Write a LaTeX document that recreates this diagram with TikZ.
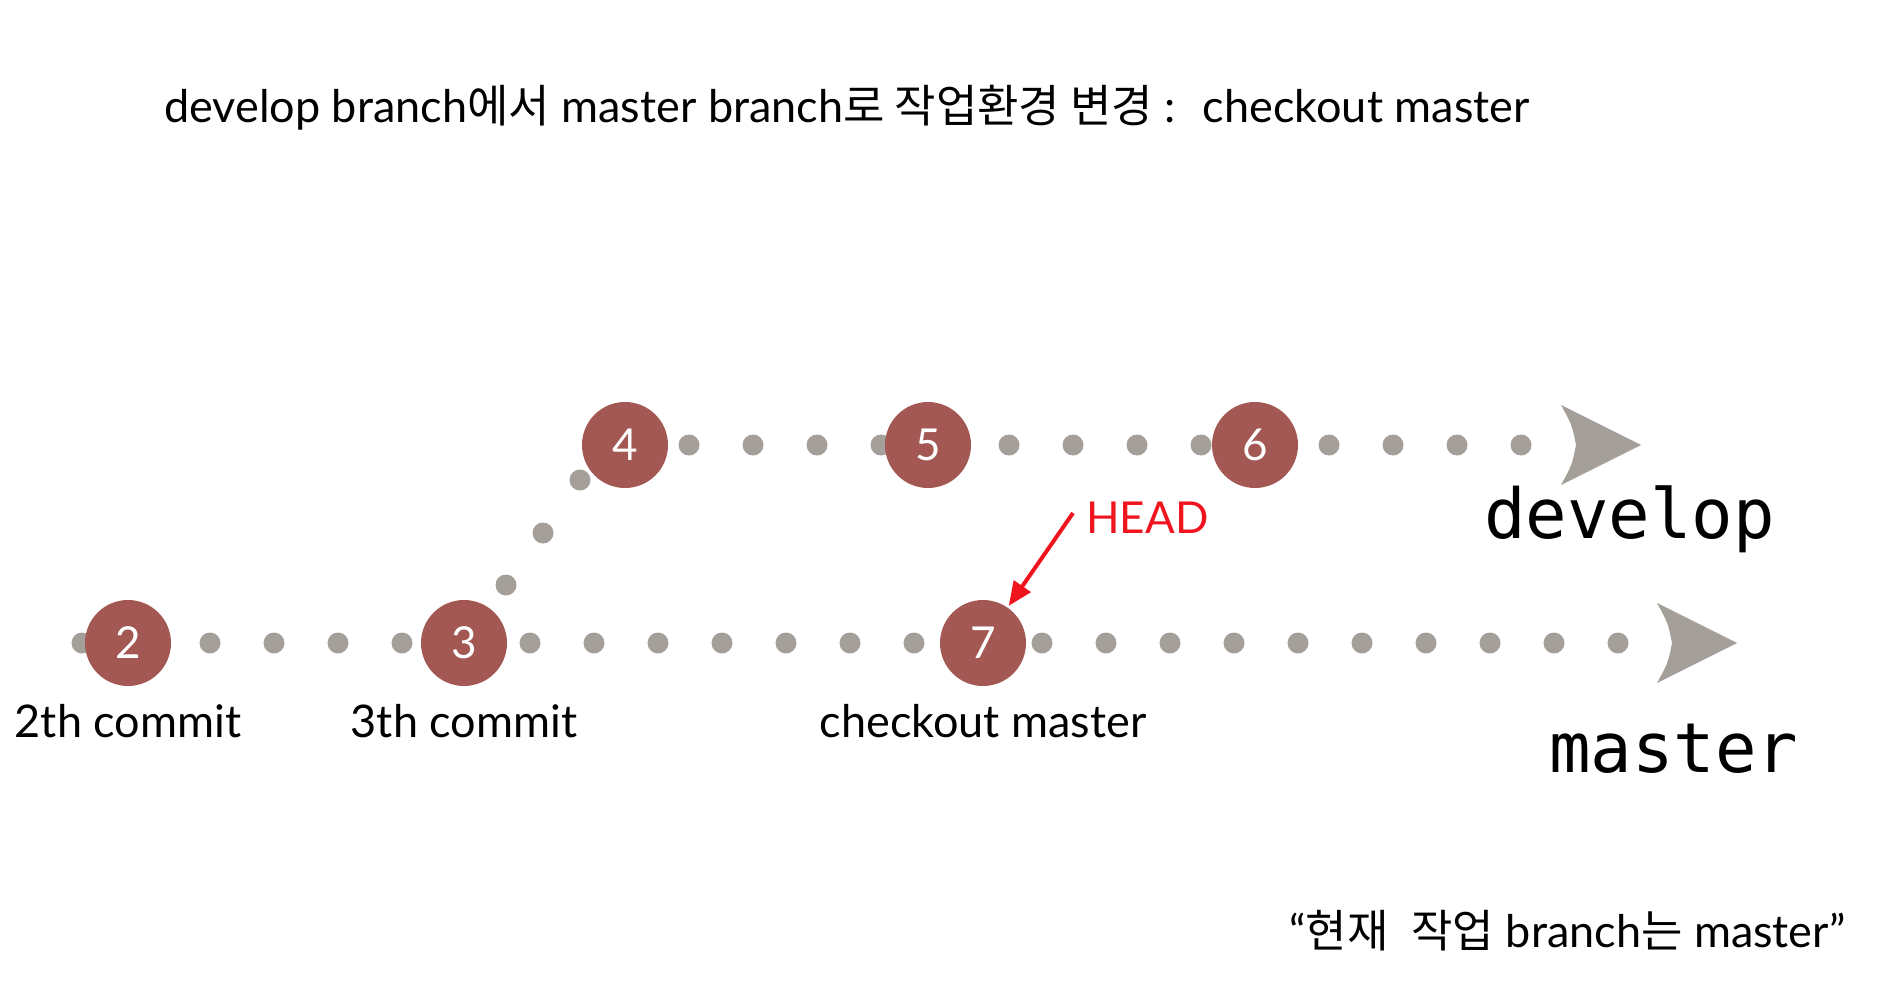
\documentclass[tikz,border=0pt]{standalone}
\usepackage{fontspec}
\setmainfont{Lato}
\newfontfamily\cjk{Noto Sans CJK KR}[Scale=1.0]
\newfontfamily\mono{DejaVu Sans Mono}
\usetikzlibrary{arrows.meta}
\definecolor{commitred}{RGB}{163,88,84}
\definecolor{dotgray}{RGB}{164,159,152}
\definecolor{headred}{RGB}{240,20,30}
\begin{document}
\begin{tikzpicture}[x=1pt,y=-1pt,
  commit/.style={circle,fill=commitred,minimum size=86pt,inner sep=0pt,text=white,font=\fontsize{44}{44}\selectfont},
  dotline/.style={dotgray,line width=21pt,line cap=round,dash pattern=on 0pt off 64pt},
  dotnode/.style={circle,fill=dotgray,minimum size=21pt,inner sep=0pt},
  caption/.style={inner sep=0pt,anchor=base,font=\fontsize{45}{45}\selectfont},
  branchname/.style={inner sep=0pt,anchor=base west,font=\mono\fontsize{69}{69}\selectfont},
  headarrow/.style={headred,line width=4pt,-{Triangle[length=24pt,width=20pt]},shorten >=2pt}
]
\useasboundingbox (0,0) rectangle (1900,998);

% title
\node[inner sep=0pt,anchor=base west,font=\fontsize{45}{45}\selectfont] (title) at (164,122)
  {develop branch{\cjk 에서} master branch{\cjk 로 작업환경 변경} :~ checkout master};

% dotted lines
\coordinate (ms) at (82,643);
\coordinate (me) at (1682,643);
\coordinate (ds) at (689,445);
\coordinate (de) at (1585,445);
\draw[dotline] (ms) -- (me);
\draw[dotline] (ds) -- (de);
\node[dotnode] (d1) at (506,585) {};
\node[dotnode] (d2) at (543,533) {};
\node[dotnode] (d3) at (580,480) {};

% chevrons
\fill[dotgray] (1561,405) -- (1641,445) -- (1561,485) .. controls (1572,465) .. (1576,445) .. controls (1572,425) .. (1561,405) -- cycle;
\fill[dotgray] (1657,603) -- (1737,643) -- (1657,683) .. controls (1668,663) .. (1672,643) .. controls (1668,623) .. (1657,603) -- cycle;

% commits
\node[commit] (c2) at (128,643) {2};
\node[commit] (c3) at (464,643) {3};
\node[commit] (c4) at (625,445) {4};
\node[commit] (c5) at (928,445) {5};
\node[commit] (c6) at (1255,445) {6};
\node[commit] (c7) at (983,643) {7};

% captions
\node[caption] (l2) at (128,737) {2th commit};
\node[caption] (l3) at (464,737) {3th commit};
\node[caption] (l7) at (983,737) {checkout master};

% HEAD
\node[inner sep=0pt,anchor=base west,text=headred,font=\fontsize{44}{44}\selectfont] (head) at (1086,533) {HEAD};
\coordinate (ht) at (1073,513);
\draw[headarrow] (ht) -- (c7);

% branch names
\node[branchname] (develop) at (1484,538) {develop};
\node[branchname] (master) at (1549,772) {master};

% quote
\node[inner sep=0pt,anchor=base west,font=\fontsize{45}{45}\selectfont] (quote) at (1289,947)
  {“{\cjk 현재}~~{\cjk 작업} branch{\cjk 는} master”};
\end{tikzpicture}
\end{document}
